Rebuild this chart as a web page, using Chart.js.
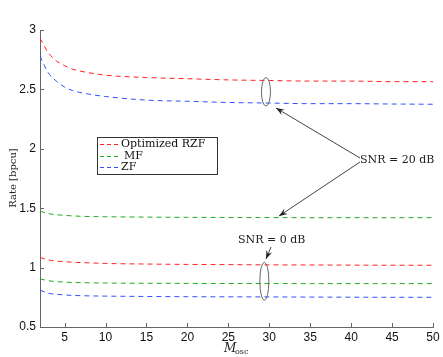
<!DOCTYPE html>
<html>
<head>
<meta charset="utf-8">
<script src="https://cdn.jsdelivr.net/npm/chart.js@4.4.0/dist/chart.umd.min.js"></script>
<style>
  html, body { margin: 0; padding: 0; background: #fff; }
  #wrap { position: relative; width: 443px; height: 357px; }
</style>
</head>
<body>
<div id="wrap"><canvas id="c" width="443" height="357"></canvas></div>
<script>
// sample positions along M_osc
const mOsc = [2, 3, 4, 5, 6, 8, 10, 15, 20, 25, 30, 35, 40, 45, 50];

// SNR = 20 dB
const rzf20 = [2.93, 2.81, 2.74, 2.70, 2.67, 2.64, 2.62, 2.60, 2.59, 2.58, 2.575, 2.57, 2.57, 2.565, 2.565];
const zf20  = [2.78, 2.64, 2.57, 2.52, 2.49, 2.46, 2.44, 2.41, 2.40, 2.39, 2.385, 2.38, 2.38, 2.377, 2.375];
const mf20  = [1.475, 1.455, 1.445, 1.44, 1.435, 1.43, 1.428, 1.425, 1.423, 1.422, 1.421, 1.42, 1.42, 1.42, 1.42];

// SNR = 0 dB
const rzf0 = [1.085, 1.065, 1.055, 1.05, 1.045, 1.04, 1.035, 1.03, 1.027, 1.025, 1.023, 1.022, 1.021, 1.02, 1.02];
const mf0  = [0.905, 0.89, 0.882, 0.878, 0.875, 0.872, 0.87, 0.868, 0.867, 0.866, 0.866, 0.865, 0.865, 0.865, 0.865];
const zf0  = [0.81, 0.785, 0.775, 0.77, 0.766, 0.762, 0.76, 0.757, 0.755, 0.754, 0.753, 0.752, 0.751, 0.75, 0.75];

const xTicks = [5, 10, 15, 20, 25, 30, 35, 40, 45, 50];
const yTicks = [0.5, 1, 1.5, 2, 2.5, 3];

const legendNames = ['Optimized RZF', 'MF', 'ZF'];
const colRed = '#ff2020', colGreen = '#22aa22', colBlue = '#3050ff';
const legendColors = [colRed, colGreen, colBlue];

function series(vals, color) {
  return {
    data: mOsc.map((x, i) => ({ x: x, y: vals[i] })),
    borderColor: color,
    borderWidth: 1,
    borderDash: [5, 4],
    pointRadius: 0,
    fill: false,
    cubicInterpolationMode: 'monotone'
  };
}

const serif = '"DejaVu Serif", "Liberation Serif", serif';

function arrow(ctx, x1, y1, x2, y2) {
  ctx.beginPath();
  ctx.moveTo(x1, y1);
  ctx.lineTo(x2, y2);
  ctx.stroke();
  const a = Math.atan2(y2 - y1, x2 - x1);
  const L = 9, w = 0.35;
  ctx.beginPath();
  ctx.moveTo(x2, y2);
  ctx.lineTo(x2 - L * Math.cos(a - w), y2 - L * Math.sin(a - w));
  ctx.lineTo(x2 - L * 0.6 * Math.cos(a), y2 - L * 0.6 * Math.sin(a));
  ctx.lineTo(x2 - L * Math.cos(a + w), y2 - L * Math.sin(a + w));
  ctx.closePath();
  ctx.fill();
}

const decor = {
  id: 'decor',
  afterDraw(chart) {
    const ctx = chart.ctx;
    const xs = chart.scales.x, ys = chart.scales.y;
    const area = chart.chartArea;
    ctx.save();

    // inward tick marks
    ctx.strokeStyle = '#666';
    ctx.lineWidth = 1;
    ctx.beginPath();
    xTicks.forEach(t => {
      const px = Math.round(xs.getPixelForValue(t)) + 0.5;
      ctx.moveTo(px, area.bottom);
      ctx.lineTo(px, area.bottom - 4);
    });
    yTicks.forEach(t => {
      const py = Math.round(ys.getPixelForValue(t)) + 0.5;
      ctx.moveTo(area.left, py);
      ctx.lineTo(area.left + 4, py);
    });
    ctx.stroke();

    // legend box
    const lx = 97, ly = 137, lw = 120, lh = 37;
    ctx.fillStyle = '#fff';
    ctx.fillRect(lx, ly, lw, lh);
    ctx.strokeStyle = '#333';
    ctx.strokeRect(lx + 0.5, ly + 0.5, lw, lh);
    ctx.font = '11px ' + serif;
    ctx.textBaseline = 'middle';
    legendNames.forEach((name, i) => {
      const yy = Math.round(ly + 7 + i * 11.5) + 0.5;
      ctx.strokeStyle = legendColors[i];
      ctx.setLineDash([4, 3]);
      ctx.beginPath();
      ctx.moveTo(lx + 3, yy);
      ctx.lineTo(lx + 23, yy);
      ctx.stroke();
      ctx.setLineDash([]);
      ctx.fillStyle = '#111';
      ctx.fillText(name, lx + (i === 1 ? 27 : 24), yy);
    });

    // ellipses
    ctx.strokeStyle = '#666';
    ctx.lineWidth = 1;
    const ex = xs.getPixelForValue(29.6);
    ctx.beginPath();
    ctx.ellipse(ex, (ys.getPixelForValue(2.6) + ys.getPixelForValue(2.36)) / 2, 4.5,
      (ys.getPixelForValue(2.36) - ys.getPixelForValue(2.6)) / 2, 0, 0, Math.PI * 2);
    ctx.stroke();
    const ex0 = xs.getPixelForValue(29.4);
    ctx.beginPath();
    ctx.ellipse(ex0, (ys.getPixelForValue(1.045) + ys.getPixelForValue(0.725)) / 2, 4.5,
      (ys.getPixelForValue(0.725) - ys.getPixelForValue(1.045)) / 2, 0, 0, Math.PI * 2);
    ctx.stroke();

    // SNR labels and arrows
    ctx.fillStyle = '#222';
    ctx.strokeStyle = '#444';
    ctx.font = '11px ' + serif;
    ctx.textBaseline = 'middle';
    ctx.fillText('SNR = 20 dB', 360, 160);
    arrow(ctx, 360, 158, 276, 108);
    arrow(ctx, 360, 162, 279, 216);
    ctx.fillStyle = '#222';
    ctx.fillText('SNR = 0 dB', 238, 240);
    arrow(ctx, 271, 247, 266, 259);

    // axis titles
    ctx.fillStyle = '#222';
    ctx.font = '10px ' + serif;
    ctx.save();
    ctx.translate(13, 178);
    ctx.rotate(-Math.PI / 2);
    ctx.textAlign = 'center';
    ctx.fillText('Rate [bpcu]', 0, 0);
    ctx.restore();
    ctx.textAlign = 'left';
    ctx.font = 'italic 12px ' + serif;
    ctx.fillText('M', 224, 349);
    ctx.font = '8px ' + serif;
    ctx.fillText('osc', 235, 352);

    ctx.restore();
  }
};

new Chart(document.getElementById('c'), {
  type: 'line',
  data: {
    datasets: [
      series(rzf20, colRed),
      series(zf20, colBlue),
      series(mf20, colGreen),
      series(rzf0, colRed),
      series(mf0, colGreen),
      series(zf0, colBlue)
    ]
  },
  options: {
    responsive: false,
    animation: false,
    layout: { padding: { top: 30, right: 10, left: 0, bottom: 0 } },
    plugins: { legend: { display: false }, tooltip: { enabled: false } },
    scales: {
      x: {
        type: 'linear',
        min: 2,
        max: 50,
        afterBuildTicks: s => { s.ticks = xTicks.map(v => ({ value: v })); },
        afterFit: s => { s.height = 30; },
        grid: { display: false, drawTicks: false },
        border: { display: true, color: '#666', width: 1 },
        ticks: { color: '#111', font: { family: 'Liberation Sans', size: 12 }, padding: 3, maxRotation: 0 }
      },
      y: {
        min: 0.5,
        max: 3,
        afterBuildTicks: s => { s.ticks = yTicks.map(v => ({ value: v })); },
        afterFit: s => { s.width = 40; },
        grid: { display: false, drawTicks: false },
        border: { display: true, color: '#666', width: 1 },
        ticks: { color: '#111', font: { family: 'Liberation Sans', size: 12 }, padding: 4,
          callback: v => String(v) }
      }
    }
  },
  plugins: [decor]
});
</script>
</body>
</html>
